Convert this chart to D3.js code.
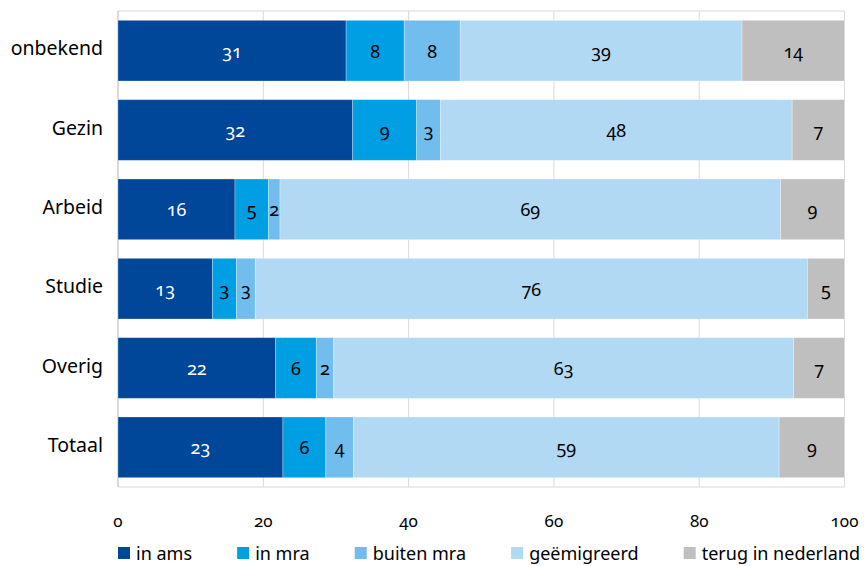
<!DOCTYPE html>
<html>
<head>
<meta charset="utf-8">
<script src="https://cdn.jsdelivr.net/npm/d3@7"></script>
<style>
    body { margin: 0; background: #fff; }
    svg text { font-family: "Noto Sans", "Open Sans", sans-serif; font-variant-numeric: oldstyle-nums; fill: #000; }
</style>
</head>
<body>
<div id="chart"></div>
<script>
// categories (top to bottom)
let categories = ["onbekend", "Gezin", "Arbeid", "Studie", "Overig", "Totaal"];
// series, values in percent
let seriesNames = ["in ams", "in mra", "buiten mra", "geëmigreerd", "terug in nederland"];
let inAms = [31.4, 32.3, 16.1, 13.0, 21.7, 22.7];
let inMra = [8.0, 8.8, 4.6, 3.3, 5.6, 5.9];
let buitenMra = [7.7, 3.3, 1.6, 2.6, 2.4, 3.8];
let geemigreerd = [38.8, 48.4, 68.9, 76.0, 63.3, 58.6];
let terugInNederland = [14.1, 7.2, 8.8, 5.1, 7.0, 9.0];
let xTicks = [0, 20, 40, 60, 80, 100];
let seriesColors = ["#004699", "#009fe3", "#71bdee", "#b2d9f4", "#bfbfbf"];
let labelColors = ["#fff", "#000", "#000", "#000", "#000"];

let plotLayout = {
    width: 864,
    height: 566,
    left: 118,
    top: 11,
    plotWidth: 726.5,
    plotHeight: 476
}

let stackedBarPlotter = {
    plot: function (theDivId) {
        let allSeries = [inAms, inMra, buitenMra, geemigreerd, terugInNederland];
        let rows = categories.map((c, i) => {
            let row = {category: c};
            seriesNames.forEach((s, si) => row[s] = allSeries[si][i]);
            return row;
        });
        let stacked = d3.stack().keys(seriesNames)(rows);

        let svg = d3.select("#" + theDivId).append("svg")
            .attr("width", plotLayout.width).attr("height", plotLayout.height);
        let graph = svg.append("g").attr("transform", "translate(" + plotLayout.left + "," + plotLayout.top + ")");

        let x = d3.scaleLinear().domain([0, 100]).range([0, plotLayout.plotWidth]);
        let y = d3.scaleBand().domain(categories).range([0, plotLayout.plotHeight])
            .paddingInner(0.235).paddingOuter(0.1175);

        //Gridlines and frame
        graph.selectAll("line.grid").data(xTicks).join("line").attr("class", "grid")
            .attr("x1", d => x(d)).attr("x2", d => x(d)).attr("y1", 0).attr("y2", plotLayout.plotHeight)
            .attr("stroke", "#d9d9d9").attr("stroke-width", 1);
        graph.append("line").attr("x1", 0).attr("x2", x(100)).attr("y1", 0).attr("y2", 0).attr("stroke", "#d9d9d9");
        graph.append("line").attr("x1", 0).attr("x2", x(100)).attr("y1", plotLayout.plotHeight).attr("y2", plotLayout.plotHeight).attr("stroke", "#d9d9d9");
        graph.append("line").attr("x1", 0).attr("x2", 0).attr("y1", 0).attr("y2", plotLayout.plotHeight).attr("stroke", "#c8c8c8");

        //Bars
        stacked.forEach((layer, si) => {
            let g = graph.append("g");
            g.selectAll("rect").data(layer).join("rect")
                .attr("x", d => x(d[0])).attr("y", d => y(d.data.category))
                .attr("width", d => x(d[1]) - x(d[0])).attr("height", y.bandwidth())
                .attr("fill", seriesColors[si])
                .attr("stroke", "#ffffff").attr("stroke-opacity", 0.35).attr("stroke-width", 0.8);
            g.selectAll("text").data(layer).join("text")
                .attr("x", d => (x(d[0]) + x(d[1])) / 2).attr("y", d => y(d.data.category) + y.bandwidth() / 2)
                .attr("text-anchor", "middle").attr("dominant-baseline", "central")
                .style("font-size", "18px").style("fill", labelColors[si])
                .text(d => d3.format(".0f")(d[1] - d[0]));
        });

        //Category labels
        graph.selectAll("text.cat").data(categories).join("text").attr("class", "cat")
            .attr("x", -15).attr("y", d => y(d) + y.bandwidth() / 2 - 3)
            .attr("text-anchor", "end").attr("dominant-baseline", "central")
            .style("font-size", "19.5px").text(d => d);

        //X tick labels
        graph.selectAll("text.tick").data(xTicks).join("text").attr("class", "tick")
            .attr("x", d => x(d)).attr("y", plotLayout.plotHeight + 33)
            .attr("text-anchor", "middle").attr("dominant-baseline", "central")
            .style("font-size", "17px").text(d => d);

        //Legend
        let legend = svg.append("g").attr("transform", "translate(" + plotLayout.left + ",553)");
        let items = seriesNames.map((s, i) => {
            let item = legend.append("g");
            item.append("rect").attr("x", 0).attr("y", -6).attr("width", 12).attr("height", 12).attr("fill", seriesColors[i]);
            let t = item.append("text").attr("x", 18).attr("y", 0).attr("dominant-baseline", "central")
                .style("font-size", "18px").text(s);
            return {item: item, w: 18 + t.node().getComputedTextLength()};
        });
        let totalWidth = 742;
        let gap = (totalWidth - d3.sum(items, d => d.w)) / (items.length - 1);
        let pos = 0;
        items.forEach(d => {
            d.item.attr("transform", "translate(" + pos + ",0)");
            pos += d.w + gap;
        });
    }
}

stackedBarPlotter.plot("chart");
</script>
</body>
</html>
